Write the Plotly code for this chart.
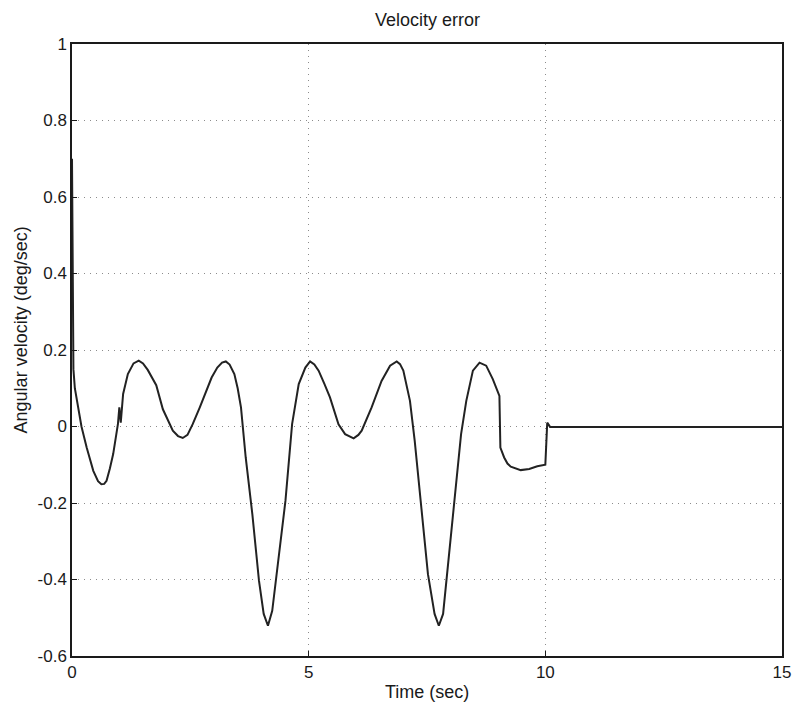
import plotly.graph_objects as go

time_sec = [0.0, 0.03, 0.06, 0.13, 0.20, 0.31, 0.45, 0.55, 0.62, 0.68, 0.73, 0.80, 0.87, 0.97, 1.00, 1.03, 1.08,
            1.18, 1.30, 1.41, 1.50, 1.60, 1.78, 1.92, 2.13, 2.24, 2.34, 2.44, 2.55, 2.70, 2.83, 2.95, 3.07,
            3.17, 3.25, 3.33, 3.43, 3.50, 3.57, 3.67, 3.81, 3.95, 4.05, 4.14, 4.23, 4.37, 4.51, 4.65, 4.79,
            4.93, 5.03, 5.12, 5.21, 5.33, 5.45, 5.63, 5.77, 5.95, 6.05, 6.12, 6.33, 6.54, 6.72, 6.86, 6.93,
            7.00, 7.07, 7.14, 7.24, 7.38, 7.52, 7.66, 7.75, 7.84, 7.94, 8.08, 8.22, 8.33, 8.47, 8.61, 8.75,
            8.89, 9.03, 9.05, 9.13, 9.20, 9.27, 9.48, 9.66, 9.83, 10.0, 10.04, 10.1, 15.0]
velocity_err = [0.70, 0.15, 0.10, 0.05, 0.0, -0.055, -0.116, -0.143, -0.151, -0.150, -0.142, -0.11, -0.072,
                0.006, 0.05, 0.01, 0.085, 0.137, 0.165, 0.172, 0.165, 0.148, 0.108, 0.045, -0.011, -0.025,
                -0.030, -0.022, 0.006, 0.05, 0.093, 0.128, 0.154, 0.167, 0.170, 0.162, 0.137, 0.10, 0.050,
                -0.081, -0.229, -0.403, -0.490, -0.521, -0.482, -0.342, -0.194, 0.006, 0.111, 0.154, 0.170,
                0.162, 0.146, 0.112, 0.076, 0.006, -0.020, -0.031, -0.022, -0.011, 0.050, 0.119, 0.159, 0.170,
                0.163, 0.146, 0.11, 0.067, -0.037, -0.212, -0.386, -0.490, -0.521, -0.490, -0.369, -0.186,
                -0.020, 0.067, 0.146, 0.167, 0.159, 0.124, 0.080, -0.055, -0.081, -0.097, -0.105, -0.114,
                -0.111, -0.104, -0.100, 0.010, -0.001, -0.001]

x_ticks = [0, 5, 10, 15]
y_ticks = [-0.6, -0.4, -0.2, 0, 0.2, 0.4, 0.6, 0.8, 1]
y_tick_text = ["-0.6", "-0.4", "-0.2", "0", "0.2", "0.4", "0.6", "0.8", "1"]

title_text = "Velocity error"
x_label = "Time (sec)"
y_label = "Angular velocity (deg/sec)"

FONT = "Liberation Sans, Arial, sans-serif"

fig = go.Figure()
fig.add_trace(go.Scatter(x=time_sec, y=velocity_err, mode="lines",
                         line=dict(color="#222222", width=2), showlegend=False))

axis_common = dict(
    showline=True, linecolor="#1a1a1a", linewidth=1.5, mirror=True,
    showgrid=True, gridcolor="#8c8c8c", gridwidth=1, griddash="1px,5px",
    zeroline=False, ticks="inside", ticklen=5, tickcolor="#1a1a1a",
    tickfont=dict(family=FONT, size=17, color="#1a1a1a"),
)

fig.update_layout(
    width=803, height=706,
    margin=dict(l=72, r=14, t=44, b=50, pad=0),
    paper_bgcolor="white", plot_bgcolor="white",
    xaxis=dict(range=[0, 15], tickvals=x_ticks, **axis_common),
    yaxis=dict(range=[-0.6, 1], tickvals=y_ticks, ticktext=y_tick_text, **axis_common),
    annotations=[
        dict(text=title_text, xref="paper", yref="paper", x=0.5, y=1, yshift=12,
             xanchor="center", yanchor="bottom", showarrow=False,
             font=dict(family=FONT, size=18, color="#1a1a1a")),
        dict(text=x_label, xref="paper", yref="paper", x=0.5, y=0, yshift=-24,
             xanchor="center", yanchor="top", showarrow=False,
             font=dict(family=FONT, size=18, color="#1a1a1a")),
        dict(text=y_label, xref="paper", yref="paper", x=0, xshift=-51, y=0.532,
             xanchor="center", yanchor="middle", showarrow=False, textangle=-90,
             font=dict(family=FONT, size=18, color="#1a1a1a")),
    ],
)

fig.write_html("out.html")
